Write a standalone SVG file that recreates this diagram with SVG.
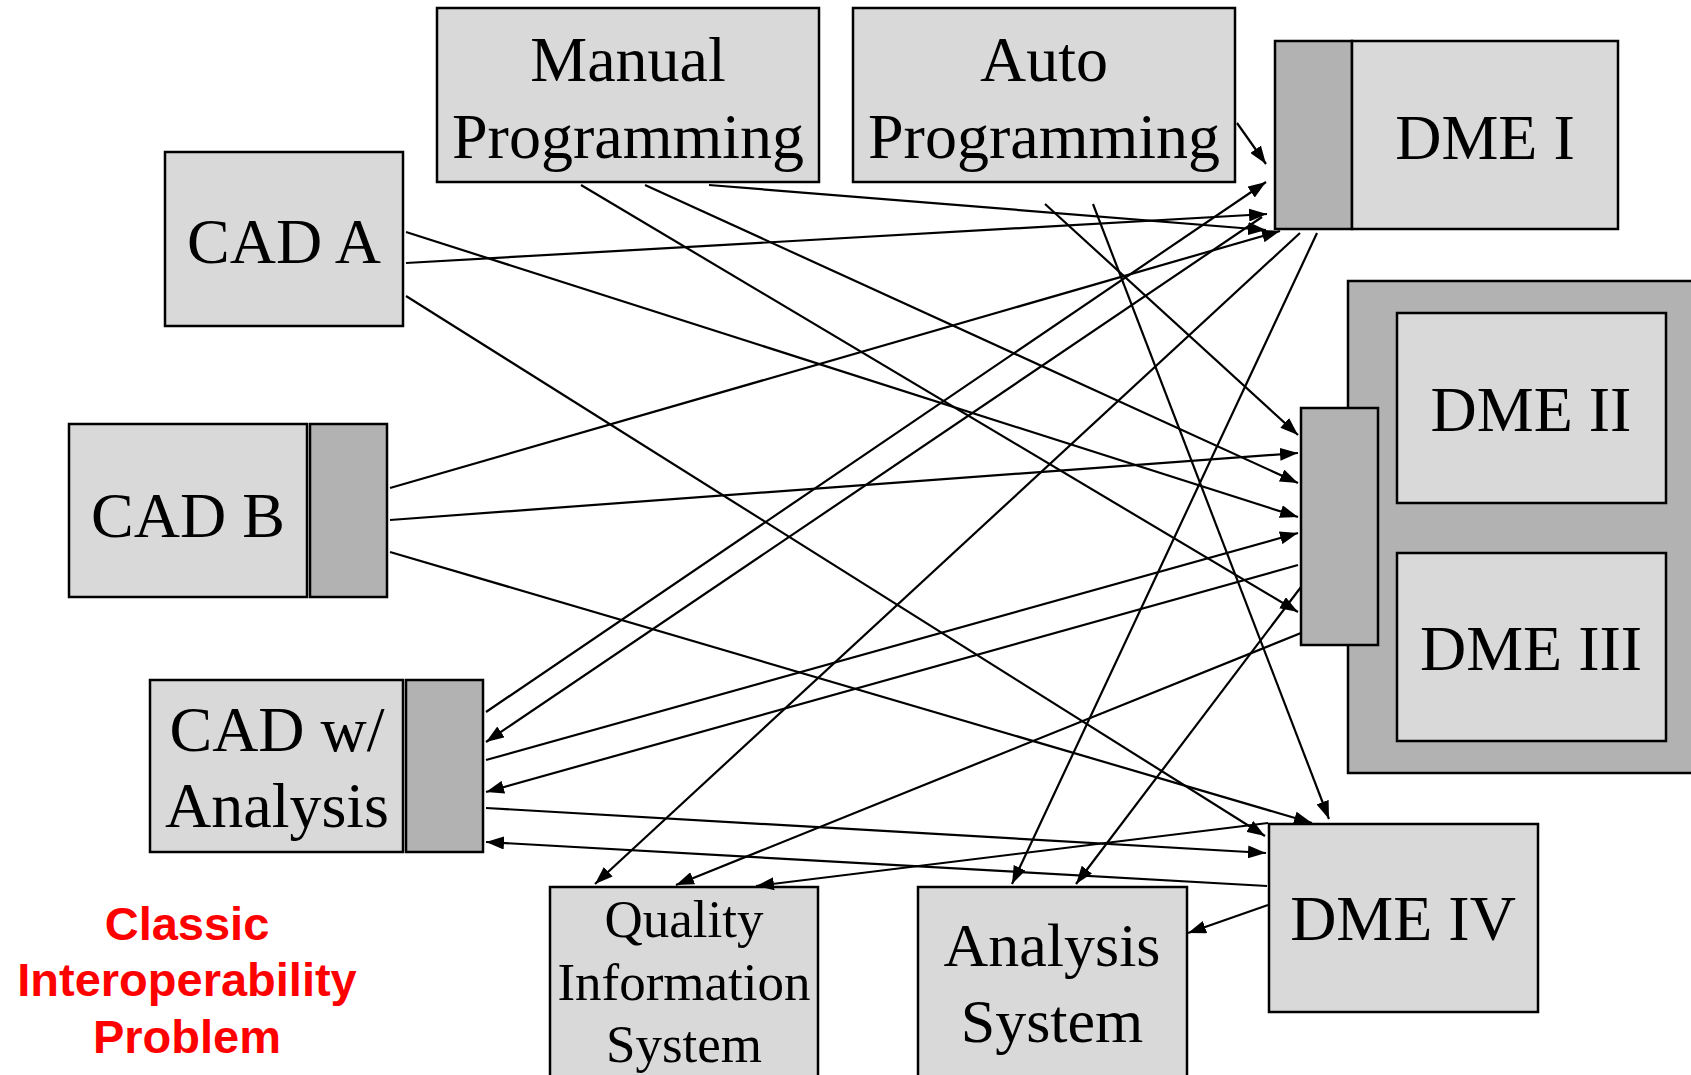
<svg xmlns="http://www.w3.org/2000/svg" width="1691" height="1075" viewBox="0 0 1691 1075">
  <style>
    .box { fill: #d9d9d9; stroke: #000; stroke-width: 2.5; }
    .port { fill: #b2b2b2; stroke: #000; stroke-width: 2.5; }
    .lbl { font-family: "Liberation Serif", "Times New Roman", serif; font-size: 64px; fill: #000; text-anchor: middle; }
    .lbl-s { font-size: 53px; }
    .lbl-m { font-size: 62px; }
    .note { font-family: "Liberation Sans", Arial, sans-serif; font-weight: bold; font-size: 47px; fill: #f00; text-anchor: middle; }
    .wire { stroke: #000; stroke-width: 2.2; fill: none; }
    .arrow { marker-end: url(#head); }
  </style>
  <defs>
    <marker id="head" markerUnits="userSpaceOnUse" markerWidth="18" markerHeight="13" refX="18" refY="6.5" orient="auto">
      <path d="M0,0 L18,6.5 L0,13 z" fill="#000"/>
    </marker>
  </defs>

  <rect width="1691" height="1075" fill="#fff"/>

  <!-- programming sources -->
  <g id="manual-programming">
    <rect class="box" x="437" y="8" width="382" height="174"/>
    <text class="lbl" x="628" y="81">Manual</text>
    <text class="lbl" x="628" y="158">Programming</text>
  </g>
  <g id="auto-programming">
    <rect class="box" x="853" y="8" width="382" height="174"/>
    <text class="lbl" x="1044" y="81">Auto</text>
    <text class="lbl" x="1044" y="158">Programming</text>
  </g>

  <!-- measurement equipment -->
  <g id="dme-1">
    <rect class="port" x="1275" y="41" width="77" height="188"/>
    <rect class="box" x="1352" y="41" width="266" height="188"/>
    <text class="lbl" x="1485" y="159">DME I</text>
  </g>
  <g id="dme-2-3">
    <rect class="port" x="1348" y="281" width="360" height="492"/>
    <g id="dme-2">
      <rect class="box" x="1397" y="313" width="269" height="190"/>
      <text class="lbl" x="1531" y="431">DME II</text>
    </g>
    <g id="dme-3">
      <rect class="box" x="1397" y="553" width="269" height="188"/>
      <text class="lbl" x="1531" y="670">DME III</text>
    </g>
    <rect class="port" x="1301" y="408" width="77" height="237"/>
  </g>
  <g id="dme-4">
    <rect class="box" x="1269" y="824" width="269" height="188"/>
    <text class="lbl" x="1403" y="940">DME IV</text>
  </g>

  <!-- CAD systems -->
  <g id="cad-a">
    <rect class="box" x="165" y="152" width="238" height="174"/>
    <text class="lbl" x="284" y="263">CAD A</text>
  </g>
  <g id="cad-b">
    <rect class="box" x="69" y="424" width="238" height="173"/>
    <rect class="port" x="310" y="424" width="77" height="173"/>
    <text class="lbl" x="188" y="537">CAD B</text>
  </g>
  <g id="cad-analysis">
    <rect class="box" x="150" y="680" width="253" height="172"/>
    <rect class="port" x="406" y="680" width="77" height="172"/>
    <text class="lbl" x="277" y="751">CAD w/</text>
    <text class="lbl" x="277" y="827">Analysis</text>
  </g>

  <!-- downstream systems -->
  <g id="quality-information-system">
    <rect class="box" x="550" y="887" width="268" height="200"/>
    <text class="lbl lbl-s" x="684" y="937">Quality</text>
    <text class="lbl lbl-s" x="684" y="1000">Information</text>
    <text class="lbl lbl-s" x="684" y="1062">System</text>
  </g>
  <g id="analysis-system">
    <rect class="box" x="918" y="887" width="269" height="200"/>
    <text class="lbl lbl-m" x="1052" y="966">Analysis</text>
    <text class="lbl lbl-m" x="1052" y="1042">System</text>
  </g>

  <g id="caption">
    <text class="note" x="187" y="940">Classic</text>
    <text class="note" x="187" y="996">Interoperability</text>
    <text class="note" x="187" y="1053">Problem</text>
  </g>

  <!-- point-to-point translators -->
  <g id="connectors" class="wire">
    <path class="arrow" d="M581,185 L1298,612"/>
    <path class="arrow" d="M645,185 L1298,483"/>
    <path class="arrow" d="M709,185 L1266,230"/>
    <path class="arrow" d="M1237,123 L1266,164"/>
    <path class="arrow" d="M1045,204 L1298,435"/>
    <path class="arrow" d="M1093,204 L1329,819"/>
    <path class="arrow" d="M406,232 L1298,517"/>
    <path class="arrow" d="M406,263 L1267,214"/>
    <path class="arrow" d="M406,296 L1265,836"/>
    <path class="arrow" d="M390,488 L1280,231"/>
    <path class="arrow" d="M390,520 L1298,453"/>
    <path class="arrow" d="M390,552 L1312,823"/>
    <path class="arrow" d="M486,712 L1266,182"/>
    <path class="arrow" d="M1262,217 L486,742"/>
    <path class="arrow" d="M486,760 L1298,533"/>
    <path class="arrow" d="M1298,565 L486,792"/>
    <path class="arrow" d="M486,808 L1266,853"/>
    <path class="arrow" d="M1267,886 L486,842"/>
    <path class="arrow" d="M1300,233 L595,884"/>
    <path class="arrow" d="M1317,233 L1012,884"/>
    <path class="arrow" d="M1301,587 L1076,884"/>
    <path class="arrow" d="M1301,633 L676,885"/>
    <path class="arrow" d="M1268,823 L756,886"/>
    <path class="arrow" d="M1268,905 L1188,933"/>
  </g>
</svg>
